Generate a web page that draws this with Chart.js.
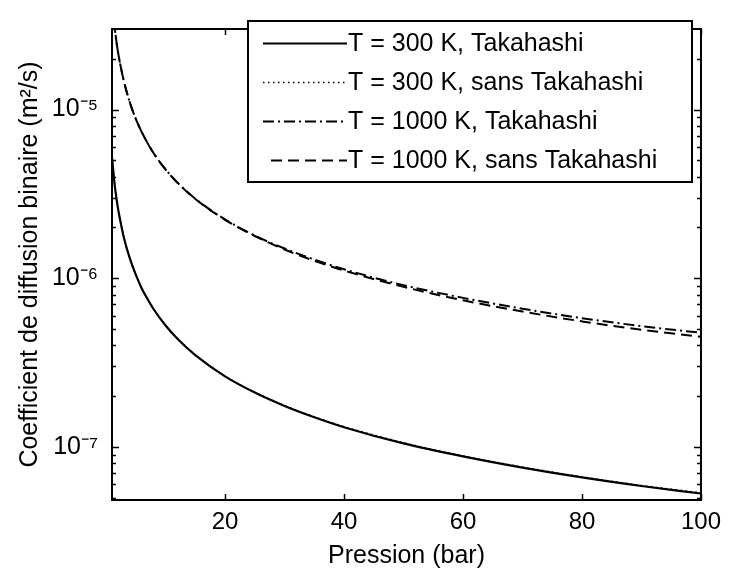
<!DOCTYPE html>
<html>
<head>
<meta charset="utf-8">
<script src="https://cdn.jsdelivr.net/npm/chart.js@4/dist/chart.umd.min.js"></script>
<style>
  html, body { margin: 0; padding: 0; background: #ffffff; }
  #wrap { width: 729px; height: 574px; position: relative; }
</style>
</head>
<body>
<div id="wrap"><canvas id="c" width="729" height="574"></canvas></div>
<script>
// ---- data ----
const pressure = [1, 1.5, 2, 2.5, 3, 4, 5, 6, 7, 8, 10, 12, 15, 20, 25, 30, 35, 40, 50, 60, 70, 80, 90, 100];
const d300Takahashi = [5.2e-6, 3.45e-6, 2.6e-6, 2.1e-6, 1.74e-6, 1.31e-6, 1.05e-6, 8.7e-7, 7.5e-7, 6.55e-7, 5.25e-7, 4.38e-7, 3.5e-7, 2.62e-7, 2.1e-7, 1.75e-7, 1.5e-7, 1.31e-7, 1.05e-7, 8.8e-8, 7.55e-8, 6.6e-8, 5.87e-8, 5.3e-8];
const d300Sans = [5.2e-6, 3.46e-6, 2.6e-6, 2.1e-6, 1.74e-6, 1.31e-6, 1.05e-6, 8.72e-7, 7.5e-7, 6.56e-7, 5.26e-7, 4.39e-7, 3.51e-7, 2.63e-7, 2.11e-7, 1.76e-7, 1.51e-7, 1.32e-7, 1.06e-7, 8.85e-8, 7.6e-8, 6.65e-8, 5.92e-8, 5.35e-8];
const d1000Takahashi = [4.4e-5, 2.95e-5, 2.2e-5, 1.77e-5, 1.47e-5, 1.1e-5, 8.8e-6, 7.35e-6, 6.3e-6, 5.5e-6, 4.42e-6, 3.69e-6, 2.96e-6, 2.23e-6, 1.79e-6, 1.5e-6, 1.29e-6, 1.13e-6, 9.1e-7, 7.65e-7, 6.6e-7, 5.8e-7, 5.2e-7, 4.75e-7];
const d1000Sans = [4.4e-5, 2.95e-5, 2.2e-5, 1.77e-5, 1.47e-5, 1.1e-5, 8.8e-6, 7.35e-6, 6.3e-6, 5.5e-6, 4.41e-6, 3.68e-6, 2.95e-6, 2.22e-6, 1.78e-6, 1.48e-6, 1.27e-6, 1.11e-6, 8.9e-7, 7.4e-7, 6.35e-7, 5.55e-7, 4.95e-7, 4.5e-7];
const seriesLabels = ["T = 300 K, Takahashi", "T = 300 K, sans Takahashi", "T = 1000 K, Takahashi", "T = 1000 K, sans Takahashi"];
const xTickValues = [20, 40, 60, 80, 100];
const yTickValues = [1e-7, 1e-6, 1e-5];
const yTickLabels = ["10\u207B\u2077", "10\u207B\u2076", "10\u207B\u2075"];
const xTitle = "Pression (bar)";
const yTitle = "Coefficient de diffusion binaire (m\u00B2/s)";

const FONT = "'Liberation Sans', Arial, sans-serif";

function pts(arr) { return pressure.map((p, i) => ({ x: p, y: arr[i] })); }

const datasets = [
  { label: seriesLabels[0], data: pts(d300Takahashi), borderColor: '#000', borderWidth: 2.2, borderDash: [] },
  { label: seriesLabels[1], data: pts(d300Sans), borderColor: '#000', borderWidth: 1.5, borderDash: [1.5, 3.5] },
  { label: seriesLabels[2], data: pts(d1000Takahashi), borderColor: '#000', borderWidth: 2, borderDash: [11, 4, 2, 4] },
  { label: seriesLabels[3], data: pts(d1000Sans), borderColor: '#000', borderWidth: 2, borderDash: [11, 6] }
].map(d => Object.assign(d, { pointRadius: 0, fill: false, cubicInterpolationMode: 'monotone' }));

// frame + inside ticks (MATLAB style)
const framePlugin = {
  id: 'frame',
  afterDatasetsDraw(chart) {
    const ctx = chart.ctx, a = chart.chartArea;
    const xs = chart.scales.x, ys = chart.scales.y;
    ctx.save();
    ctx.strokeStyle = '#000';
    ctx.lineWidth = 1.5;
    xTickValues.forEach(v => {
      const px = Math.round(xs.getPixelForValue(v)) + 0.5;
      ctx.beginPath();
      ctx.moveTo(px, a.bottom); ctx.lineTo(px, a.bottom - 6);
      ctx.moveTo(px, a.top); ctx.lineTo(px, a.top + 6);
      ctx.stroke();
    });
    const ymin = ys.min, ymax = ys.max;
    for (let e = -9; e <= -4; e++) {
      for (let m = 1; m <= 9; m++) {
        const v = m * Math.pow(10, e);
        if (v < ymin || v > ymax) continue;
        const py = Math.round(ys.getPixelForValue(v)) + 0.5;
        const len = (m === 1) ? 7 : 4;
        ctx.beginPath();
        ctx.moveTo(a.left, py); ctx.lineTo(a.left + len, py);
        ctx.moveTo(a.right, py); ctx.lineTo(a.right - len, py);
        ctx.stroke();
      }
    }
    ctx.lineWidth = 2;
    ctx.strokeRect(a.left, a.top, a.right - a.left, a.bottom - a.top);
    ctx.restore();
  }
};

// legend box drawn inside plot area, using the datasets' own styles
const legendPlugin = {
  id: 'boxLegend',
  afterDraw(chart) {
    const ctx = chart.ctx;
    const bx = 248, by = 21, bw = 444, bh = 161;
    ctx.save();
    ctx.fillStyle = '#fff';
    ctx.fillRect(bx, by, bw, bh);
    ctx.strokeStyle = '#000';
    ctx.lineWidth = 2;
    ctx.strokeRect(bx, by, bw, bh);
    const rows = [43, 82, 121, 160];
    ctx.font = "25px " + FONT;
    ctx.textBaseline = 'middle';
    ctx.fillStyle = '#000';
    chart.data.datasets.forEach((d, i) => {
      const y = rows[i];
      ctx.beginPath();
      ctx.setLineDash(d.borderDash || []);
      ctx.lineWidth = d.borderWidth;
      ctx.strokeStyle = d.borderColor;
      const x0 = i === 3 ? 271 : 263;
      ctx.moveTo(x0, y + 0.5); ctx.lineTo(347, y + 0.5);
      ctx.stroke();
      ctx.setLineDash([]);
      ctx.fillText(d.label, 348, y + 1);
    });
    ctx.restore();
  }
};

new Chart(document.getElementById('c'), {
  type: 'line',
  data: { datasets },
  options: {
    responsive: false,
    animation: false,
    devicePixelRatio: 1,
    layout: { padding: { left: 0, right: 25, top: 11, bottom: 0 } },
    plugins: { legend: { display: false }, tooltip: { enabled: false } },
    scales: {
      x: {
        type: 'linear', min: 1, max: 100,
        grid: { display: false, drawTicks: false },
        border: { display: false },
        afterBuildTicks(s) { s.ticks = xTickValues.map(v => ({ value: v })); },
        afterFit(s) { s.height = 74; },
        ticks: { color: '#000', font: { family: FONT, size: 24 }, padding: 8, maxRotation: 0,
                 callback: v => String(v) },
        title: { display: true, text: xTitle, color: '#000', font: { family: FONT, size: 25 }, padding: { top: 0, bottom: 3 } }
      },
      y: {
        type: 'logarithmic', min: 4.85e-8, max: 3.0e-5,
        grid: { display: false, drawTicks: false },
        border: { display: false },
        afterBuildTicks(s) { s.ticks = yTickValues.map(v => ({ value: v })); },
        afterFit(s) { s.width = 112; },
        ticks: { color: '#000', font: { family: FONT, size: 25 }, padding: 14,
                 callback: (v) => { const i = yTickValues.findIndex(t => Math.abs(t - v) / t < 1e-6); return i >= 0 ? yTickLabels[i] : ''; } },
        title: { display: true, text: yTitle, color: '#000', font: { family: FONT, size: 25 }, padding: { top: 15, bottom: 0 } }
      }
    }
  },
  plugins: [framePlugin, legendPlugin]
});
</script>
</body>
</html>
